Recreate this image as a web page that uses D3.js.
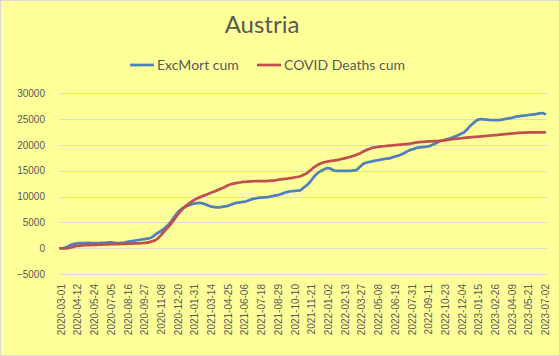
<!DOCTYPE html>
<html><head><meta charset="utf-8">
<script src="https://cdn.jsdelivr.net/npm/d3@7"></script>
<style>
html,body{margin:0;padding:0;background:#fff;}
svg{display:block;}
</style></head>
<body>
<svg id="chart" width="560" height="356"></svg>
<script>
const title = "Austria";
const seriesNames = ["ExcMort cum", "COVID Deaths cum"];
const startDate = "2020-03-01";
const tickLabels = ["2020-03-01","2020-04-12","2020-05-24","2020-07-05","2020-08-16","2020-09-27","2020-11-08","2020-12-20",
"2021-01-31","2021-03-14","2021-04-25","2021-06-06","2021-07-18","2021-08-29","2021-10-10","2021-11-21",
"2022-01-02","2022-02-13","2022-03-27","2022-05-08","2022-06-19","2022-07-31","2022-09-11","2022-10-23","2022-12-04",
"2023-01-15","2023-02-26","2023-04-09","2023-05-21","2023-07-02"];
const yTicks = [-5000,0,5000,10000,15000,20000,25000,30000];

const excMort = [0,50,200,450,700,850,950,1000,1000,1000,
1050,1000,1000,1000,1000,1050,1050,1100,1150,1100,
1000,1000,1050,1100,1250,1350,1400,1500,1600,1700,
1750,1850,1950,2200,2600,3000,3300,3700,4200,4700,
5400,6200,6900,7400,7800,8100,8300,8500,8650,8750,
8800,8700,8500,8300,8100,8000,7900,7900,8000,8100,
8200,8400,8600,8750,8850,8950,9000,9150,9350,9550,
9650,9750,9800,9850,9900,9950,10100,10200,10300,10450,
10650,10850,10950,11050,11100,11150,11200,11600,12000,12500,
13100,13800,14400,14800,15100,15350,15500,15400,15100,15000,
15000,15000,15000,15000,15000,15050,15100,15500,16000,16400,
16600,16700,16850,16950,17050,17150,17250,17350,17400,17550,
17750,17900,18050,18300,18600,18900,19100,19250,19450,19550,
19600,19650,19700,19900,20150,20400,20650,20850,21000,21150,
21300,21500,21700,21950,22200,22500,23000,23600,24100,24550,
24900,25000,24950,24900,24850,24800,24800,24800,24850,24950,
25050,25150,25250,25400,25500,25600,25650,25700,25800,25850,
25900,26000,26100,26150,26000];

const covidDeaths = [0,0,0,50,200,350,450,500,550,600,
620,640,660,680,700,720,740,760,780,790,
800,820,840,860,880,900,920,940,960,980,
1020,1080,1200,1350,1550,1950,2500,3100,3700,4300,
5000,5700,6400,7100,7700,8200,8600,9000,9350,9650,
9850,10100,10300,10500,10750,10950,11150,11400,11600,11850,
12150,12350,12500,12600,12700,12800,12850,12900,12950,12950,
13000,13000,13000,13000,13000,13050,13100,13150,13250,13350,
13400,13450,13550,13600,13700,13800,13900,14150,14400,14750,
15200,15650,16000,16300,16550,16700,16800,16900,16950,17050,
17150,17300,17400,17550,17700,17850,18050,18250,18500,18800,
19050,19250,19450,19550,19650,19700,19750,19800,19850,19900,
19950,20000,20050,20100,20150,20200,20300,20400,20500,20550,
20600,20650,20680,20700,20720,20750,20770,20850,20900,21000,
21050,21150,21200,21250,21300,21380,21430,21480,21520,21560,
21600,21650,21700,21750,21800,21850,21900,21950,22000,22050,
22100,22150,22200,22250,22300,22350,22380,22400,22420,22430,
22440,22450,22450,22450,22450];

const colors = ["#4F81BD", "#C0504D"];

// weekly categories
const fmt = d3.timeFormat("%Y-%m-%d");
const parse = d3.timeParse("%Y-%m-%d");
const categories = excMort.map((_, i) => fmt(d3.timeDay.offset(parse(startDate), 7 * i)));

const svg = d3.select("#chart");
const W = 560, H = 356;
svg.append("rect").attr("x",0.5).attr("y",0.5).attr("width",W-1).attr("height",H-1)
  .attr("fill","#FFFF99").attr("stroke","#D9D9D9");

const x = d3.scalePoint().domain(categories).range([60.5, 545]);
const y = d3.scaleLinear().domain([-5000, 30000]).range([274.1, 93.3]);

// gridlines
svg.append("g").selectAll("line").data(yTicks).join("line")
  .attr("x1", 60).attr("x2", 547)
  .attr("y1", d => Math.round(y(d)) + 0.5).attr("y2", d => Math.round(y(d)) + 0.5)
  .attr("stroke", "#D9D9D9").attr("stroke-width", 1);

// y axis labels
const yAxis = d3.axisLeft(y).tickValues(yTicks).tickSize(0).tickPadding(0).tickFormat(d3.format("d"));
const gy = svg.append("g").attr("transform", "translate(45,0)").call(yAxis);
gy.select(".domain").remove();
gy.selectAll("text").attr("font-family", "Liberation Sans, Arial, sans-serif")
  .attr("font-size", 10).attr("fill", "#595959");

// x axis labels
const xAxis = d3.axisBottom(x).tickValues(tickLabels).tickSize(0).tickPadding(0);
const gx = svg.append("g").attr("transform", "translate(0,282)").call(xAxis);
gx.select(".domain").remove();
gx.selectAll("text")
  .attr("font-family", "Liberation Sans, Arial, sans-serif")
  .attr("font-size", 10).attr("fill", "#595959")
  .attr("transform", "rotate(-90)")
  .attr("text-anchor", "end")
  .attr("x", 0).attr("y", 0).attr("dx", "-0.1em").attr("dy", "0.35em");
gx.selectAll(".tick").attr("transform", d => `translate(${x(d)},282)`);
gx.attr("transform", null);
gx.selectAll("text").attr("transform", "rotate(-90)").attr("x", -2).attr("y", 1).attr("dy", "0.32em").attr("dx", null);

// lines
const line = d3.line().x((d, i) => x(categories[i])).y(d => y(d)).curve(d3.curveMonotoneX);
[excMort, covidDeaths].forEach((s, k) => {
  svg.append("path").datum(s).attr("d", line)
    .attr("fill", "none").attr("stroke", colors[k]).attr("stroke-width", 2.75)
    .attr("stroke-linejoin", "round").attr("stroke-linecap", "round");
});

// title
svg.append("text").attr("x", 262).attr("y", 33).attr("text-anchor", "middle")
  .attr("font-family", "Lato, Open Sans, sans-serif").attr("font-size", 24)
  .attr("fill", "#595959").text(title);

// legend
const legendX = [130, 257];
seriesNames.forEach((n, k) => {
  const g = svg.append("g").attr("transform", `translate(${legendX[k]},65)`);
  g.append("line").attr("x1", 0).attr("x2", 24).attr("y1", 0).attr("y2", 0)
    .attr("stroke", colors[k]).attr("stroke-width", 2.75);
  g.append("text").attr("x", 27).attr("y", 0).attr("dy", "0.35em")
    .attr("font-family", "Lato, Open Sans, sans-serif").attr("font-size", 14)
    .attr("fill", "#595959").text(n);
});
</script>
</body></html>
